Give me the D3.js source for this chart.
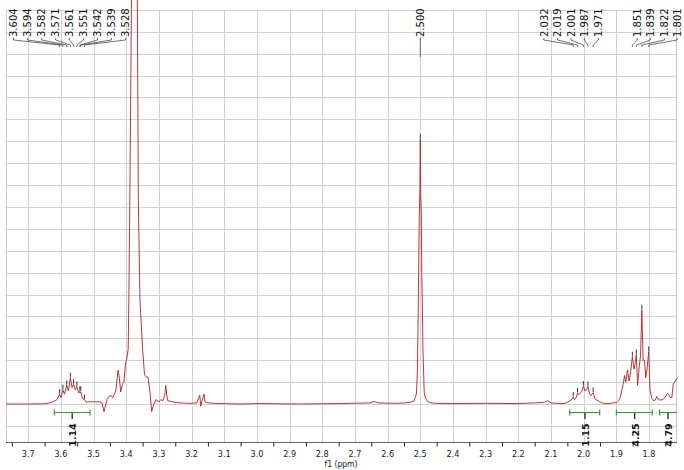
<!DOCTYPE html>
<html><head><meta charset="utf-8">
<script src="https://cdn.jsdelivr.net/npm/d3@7"></script>
<style>html,body{margin:0;padding:0;background:#fff}</style>
</head><body>
<script>
// ---- data ----
const specPpm = [3.768,3.695,3.649,3.634,3.621,3.612,3.604,3.600,3.594,3.589,3.582,3.577,3.571,3.566,3.561,3.556,3.551,3.546,3.542,3.5405,3.539,3.534,3.528,3.522,3.515,3.500,3.481,3.474,3.468,3.464,3.459,3.450,3.441,3.432,3.425,3.421,3.417,3.412,3.407,3.402,3.399,3.394,3.392,3.389,3.384,3.380,3.375,3.370,3.366,3.363,3.358,3.350,3.344,3.340,3.333,3.327,3.322,3.318,3.309,3.300,3.294,3.288,3.282,3.279,3.276,3.273,3.257,3.236,3.205,3.184,3.178,3.175,3.172,3.169,3.162,3.159,3.150,3.113,3.052,2.991,2.869,2.746,2.654,2.641,2.629,2.578,2.547,2.532,2.520,2.515,2.5116,2.509,2.507,2.506,2.504,2.503,2.5015,2.500,2.4985,2.497,2.4955,2.494,2.492,2.488,2.484,2.478,2.470,2.450,2.400,2.300,2.200,2.150,2.120,2.110,2.100,2.080,2.060,2.050,2.042,2.036,2.032,2.028,2.023,2.019,2.015,2.010,2.005,2.001,1.996,1.991,1.987,1.982,1.978,1.975,1.971,1.966,1.960,1.952,1.945,1.935,1.925,1.915,1.905,1.900,1.893,1.888,1.883,1.878,1.875,1.871,1.866,1.861,1.856,1.851,1.846,1.843,1.839,1.835,1.830,1.826,1.822,1.818,1.814,1.810,1.806,1.801,1.797,1.792,1.786,1.781,1.776,1.771,1.765,1.758,1.751,1.744,1.740,1.735,1.730,1.726,1.722,1.716,1.712];
const specInt = [0,0,0.01,0.05,0.12,0.2,0.45,0.3,0.65,0.45,0.85,0.6,1.2,0.75,0.9,0.65,0.8,0.5,0.58,0.5,0.55,0.25,0.2,0.08,0.1,0.1,0.1,0.05,-0.35,-0.1,0.2,0.4,0.3,0.6,1.55,1.2,0.55,0.9,1.0,1.9,2.0,2.5,4.8,9.3,18.4,30,42,30,18.4,9.3,4.75,2.5,1.35,1.25,1.2,0.5,-0.35,-0.1,0.2,0.1,0.2,0.15,0.4,0.85,0.4,0.15,0.1,0.05,0.03,0.05,0.3,0.4,-0.1,0.1,0.45,0.1,0.05,0.02,0,0.02,0,0.02,0.05,0.12,0.05,0.03,0.05,0.08,0.12,0.3,0.5,1.5,3.5,4.75,7.5,8.7,9.5,12.1,9.4,8.9,6,4.75,2.5,0.5,0.25,0.12,0.06,0.03,0.02,0.03,0.02,0.05,0.08,0.15,0.05,0.03,0.02,0.08,0.15,0.22,0.32,0.2,0.3,0.5,0.42,0.5,0.6,0.82,0.6,0.65,0.8,0.45,0.38,0.45,0.52,0.25,0.18,0.12,0.06,0.02,0.02,0.03,0.08,0.05,0.15,0.3,0.65,1.0,1.3,1.0,1.55,1.05,1.5,2.16,1.6,1.8,2.25,0.85,1.7,2.2,4.3,2.0,2.0,1.2,1.6,2.4,0.65,0.28,0.15,0.18,0.34,0.2,0.18,0.2,0.3,0.48,0.45,0.3,0.3,0.9,1.0,1.15,1.2];

const xTickValues = [3.7,3.6,3.5,3.4,3.3,3.2,3.1,3.0,2.9,2.8,2.7,2.6,2.5,2.4,2.3,2.2,2.1,2.0,1.9,1.8];
const xTickLabels = ["3.7","3.6","3.5","3.4","3.3","3.2","3.1","3.0","2.9","2.8","2.7","2.6","2.5","2.4","2.3","2.2","2.1","2.0","1.9","1.8"];
const xMinorTicks = [3.75,3.65,3.55,3.45,3.35,3.25,3.15,3.05,2.95,2.85,2.75,2.65,2.55,2.45,2.35,2.25,2.15,2.05,1.95,1.85,1.75];
const xAxisTitle = "f1 (ppm)";

// peak label groups: label text, and label column positions (in ppm units)
const peakGroupA = ["3.604","3.594","3.582","3.571","3.561","3.551","3.542","3.539","3.528"];
const peakGroupAPos = [3.745,3.702,3.659,3.616,3.574,3.531,3.488,3.445,3.402];
const peakGroupB = ["2.500"];
const peakGroupBPos = [2.500];
const peakGroupC = ["2.032","2.019","2.001","1.987","1.971"];
const peakGroupCPos = [2.122,2.080,2.039,1.998,1.955];
const peakGroupD = ["1.851","1.839","1.822","1.801"];
const peakGroupDPos = [1.836,1.796,1.753,1.714];

const integralFrom = [3.620,2.043,1.900,1.768];
const integralTo = [3.511,1.951,1.790,1.714];
const integralCenter = [3.5655,1.996,1.844,1.742];
const integralLabels = ["1.14","1.15","4.25","4.79"];

// ---- drawing ----
const W = 684, H = 470;
const svg = d3.select("body").append("svg").attr("width", W).attr("height", H)
  .style("font-family", "'DejaVu Sans Condensed','DejaVu Sans',sans-serif");

const x = d3.scaleLinear().domain([3.768, 1.7144]).range([6, 677]);
const y = d3.scaleLinear().domain([-1.735, 18]).range([442, 9.8]);

// grid
const g = svg.append("g");
g.selectAll("line.h").data(d3.range(-1, 19)).join("line")
  .attr("x1", 6).attr("x2", 677)
  .attr("y1", d => Math.round(y(d)) + 0.5).attr("y2", d => Math.round(y(d)) + 0.5)
  .attr("stroke", "#d2d2d2").attr("stroke-width", 1);
g.selectAll("line.v").data(xTickValues).join("line")
  .attr("y1", y(18)).attr("y2", 442)
  .attr("x1", d => Math.round(x(d)) + 0.5).attr("x2", d => Math.round(x(d)) + 0.5)
  .attr("stroke", "#d2d2d2").attr("stroke-width", 1);
// borders
g.append("line").attr("x1", 6.5).attr("x2", 6.5).attr("y1", y(18)).attr("y2", 442).attr("stroke", "#c8c8c8");
g.append("line").attr("x1", 676.5).attr("x2", 676.5).attr("y1", y(18)).attr("y2", 442).attr("stroke", "#c8c8c8");

// x axis
const axis = d3.axisBottom(x).tickValues(xMinorTicks).tickSize(4).tickFormat("");
const ag = svg.append("g").attr("transform", "translate(0,442.5)").call(axis);
ag.select(".domain").attr("stroke", "#666").attr("d", "M6,0H677");
ag.selectAll(".tick line").attr("stroke", "#222");
svg.append("g").selectAll("text").data(xTickValues).join("text")
  .attr("x", d => x(d)).attr("y", 457)
  .attr("text-anchor", "middle").attr("font-size", 9).attr("fill", "#222")
  .text((d, i) => xTickLabels[i]);
svg.append("text").attr("x", 341).attr("y", 467).attr("text-anchor", "middle")
  .attr("font-size", 8.5).attr("fill", "#222").text(xAxisTitle);

// spectrum
const pts = specPpm.map((p, i) => [p, specInt[i]]);
svg.append("path").datum(pts)
  .attr("d", d3.line().x(d => x(d[0])).y(d => y(d[1])))
  .attr("fill", "none").attr("stroke", "#b51f24").attr("stroke-width", 0.9);

// peak marks
function apexAt(p) {
  let best = -Infinity;
  specPpm.forEach((q, i) => { if (Math.abs(q - p) <= 0.0035 && specInt[i] > best) best = specInt[i]; });
  return best;
}
function peakGroup(labels, pos, single) {
  const gg = svg.append("g");
  labels.forEach((lab, i) => {
    const lx = x(pos[i]), px = x(+lab);
    gg.append("text").attr("transform", `translate(${lx + 3.8},37) rotate(-90)`)
      .attr("font-family", "'DejaVu Sans',sans-serif")
      .attr("font-size", 10).attr("fill", "#111").text(lab);
    const yEnd = single ? 57 : 47;
    gg.append("path").attr("d", `M${lx},38V40L${px},45V${yEnd}`)
      .attr("fill", "none").attr("stroke", "#333").attr("stroke-width", 0.7);
    const a = apexAt(+lab);
    if (a > 0 && a < 17) {
      gg.append("line").attr("x1", px).attr("x2", px)
        .attr("y1", y(a) - 5).attr("y2", y(a) - 0.5)
        .attr("stroke", "#333").attr("stroke-width", 1);
    }
  });
}
peakGroup(peakGroupA, peakGroupAPos, false);
peakGroup(peakGroupB, peakGroupBPos, true);
peakGroup(peakGroupC, peakGroupCPos, false);
peakGroup(peakGroupD, peakGroupDPos, false);

// integrals
const ig = svg.append("g");
integralFrom.forEach((f, i) => {
  const x1 = x(f), x2 = x(integralTo[i]), xc = x(integralCenter[i]);
  ig.append("line").attr("x1", x1).attr("x2", x2).attr("y1", 412.5).attr("y2", 412.5)
    .attr("stroke", "#3a9a3a").attr("stroke-width", 1.2);
  ig.append("line").attr("x1", x1).attr("x2", x1).attr("y1", 409.5).attr("y2", 415.5)
    .attr("stroke", "#3a9a3a").attr("stroke-width", 1.2);
  if (x2 < 676) ig.append("line").attr("x1", x2).attr("x2", x2).attr("y1", 409.5).attr("y2", 415.5)
    .attr("stroke", "#3a9a3a").attr("stroke-width", 1.2);
  ig.append("line").attr("x1", xc).attr("x2", xc).attr("y1", 413).attr("y2", 419)
    .attr("stroke", "#111").attr("stroke-width", 1.2);
  ig.append("text").attr("transform", `translate(${xc + 4},435) rotate(-90)`)
    .attr("text-anchor", "middle").attr("font-size", 9.5).attr("font-weight", 600)
    .attr("font-family", "'DejaVu Sans',sans-serif")
    .attr("fill", "#111").text(integralLabels[i]);
});
</script>
</body></html>
